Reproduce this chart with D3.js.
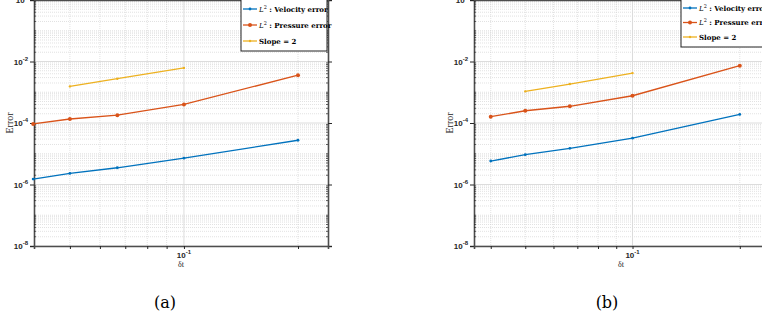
<!DOCTYPE html>
<html>
<head>
<meta charset="utf-8">
<script src="https://cdn.jsdelivr.net/npm/d3@7"></script>
<style>
  body { margin: 0; background: #fff; }
  svg { display: block; }
  .tick-lbl { font-family: "Liberation Sans", Arial, sans-serif; font-weight: bold; font-size: 8px; fill: #262626; }
  .leg { font-family: "DejaVu Serif", "Liberation Serif", serif; font-weight: bold; font-size: 7px; fill: #000; }
  .axlbl { font-family: "Liberation Serif", serif; font-size: 8px; fill: #262626; }
  .ylbl { font-family: "Liberation Serif", serif; font-size: 10px; fill: #262626; }
  .cap { font-family: "DejaVu Serif", "Liberation Serif", serif; font-size: 16px; fill: #000; }
</style>
</head>
<body>
<div id="chart"></div>
<script>
// time steps
var dt = [0.04, 0.05, 0.0667, 0.1, 0.2];
var slopeDt = [0.05, 0.0667, 0.1];

// panel (a)
var velA = [1.5e-6, 2.3e-6, 3.5e-6, 7.2e-6, 2.75e-5];
var presA = [9.3e-5, 1.35e-4, 1.8e-4, 4.0e-4, 3.6e-3];
var slopeA = [1.55e-3, 2.76e-3, 6.2e-3];

// panel (b)
var velB = [5.8e-6, 9.3e-6, 1.5e-5, 3.2e-5, 1.9e-4];
var presB = [1.6e-4, 2.5e-4, 3.5e-4, 7.7e-4, 7.3e-3];
var slopeB = [1.07e-3, 1.85e-3, 4.2e-3];

var yTicks = [1e-8, 1e-6, 1e-4, 1e-2, 1e0];
var xTicks = [0.1];
var legendLabels = ["Velocity error", "Pressure error", "Slope = 2"];
var colors = ["#0072BD", "#D95319", "#EDB120"];

var width = 762, height = 325;

var svg = d3.select("#chart").append("svg")
  .attr("width", width)
  .attr("height", height);

var drawPanel = function(opt){
  var x = d3.scaleLog().domain(opt.xdom).range([opt.left, opt.right]);
  var y = d3.scaleLog().domain([1e-8, 1e0]).range([246, 0]);
  var g = svg.append("g");

  // minor grid
  var minorY = [];
  for (var e = -8; e < 0; e++) {
    for (var m = 1; m < 10; m++) {
      var v = m * Math.pow(10, e);
      if (m == 1 && e % 2 == 0) continue;
      minorY.push(v);
    }
  }
  g.selectAll(".my").data(minorY).enter().append("line")
    .attr("x1", opt.left).attr("x2", opt.right)
    .attr("y1", function(d){ return y(d); }).attr("y2", function(d){ return y(d); })
    .attr("stroke", "#cfcfcf").attr("stroke-width", 0.6).attr("stroke-dasharray", "1,1");

  var minorX = [0.03, 0.04, 0.05, 0.06, 0.07, 0.08, 0.09, 0.2].filter(function(d){
    return d > opt.xdom[0] && d < opt.xdom[1];
  });
  g.selectAll(".mx").data(minorX).enter().append("line")
    .attr("x1", function(d){ return x(d); }).attr("x2", function(d){ return x(d); })
    .attr("y1", 0).attr("y2", 246)
    .attr("stroke", "#cfcfcf").attr("stroke-width", 0.6).attr("stroke-dasharray", "1,1");

  // major grid
  g.selectAll(".gy").data(yTicks).enter().append("line")
    .attr("x1", opt.left).attr("x2", opt.right)
    .attr("y1", function(d){ return y(d); }).attr("y2", function(d){ return y(d); })
    .attr("stroke", "#dcdcdc").attr("stroke-width", 1);
  g.selectAll(".gx").data(xTicks).enter().append("line")
    .attr("x1", function(d){ return x(d); }).attr("x2", function(d){ return x(d); })
    .attr("y1", 0).attr("y2", 246)
    .attr("stroke", "#dcdcdc").attr("stroke-width", 1);

  // axes (box)
  var axL = d3.axisLeft(y).tickValues(yTicks).tickSize(4).tickFormat("");
  var axR = d3.axisRight(y).tickValues(yTicks).tickSize(4).tickFormat("");
  var axB = d3.axisBottom(x).tickValues(xTicks.concat(minorX)).tickSize(3).tickFormat("");
  var axT = d3.axisTop(x).tickValues(xTicks.concat(minorX)).tickSize(3).tickFormat("");
  g.append("g").attr("transform", "translate(" + opt.left + ",0)").call(axL);
  g.append("g").attr("transform", "translate(" + opt.right + ",0)").call(axR);
  g.append("g").attr("transform", "translate(0,246)").call(axB);
  g.append("g").attr("transform", "translate(0,0)").call(axT);
  g.selectAll(".domain").attr("stroke", "#4d4d4d").attr("stroke-width", 1.6);
  g.selectAll(".tick line").attr("stroke", "#262626").attr("stroke-width", 1);
  // minor y ticks on the sides
  [opt.left, opt.right].forEach(function(px, i){
    g.selectAll(".mt" + i).data(minorY).enter().append("line")
      .attr("x1", px).attr("x2", i == 0 ? px + 2 : px - 2)
      .attr("y1", function(d){ return y(d); }).attr("y2", function(d){ return y(d); })
      .attr("stroke", "#262626").attr("stroke-width", 0.7);
  });

  // y tick labels
  var yl = g.selectAll(".yl").data(yTicks).enter().append("text")
    .attr("class", "tick-lbl")
    .attr("x", opt.left - 6).attr("y", function(d){ return y(d) + 3; })
    .attr("text-anchor", "end");
  yl.append("tspan").text("10");
  yl.append("tspan").attr("dy", -4).style("font-size", "6px").text(function(d){ return Math.round(Math.log10(d)); });

  var xl = g.selectAll(".xl").data(xTicks).enter().append("text")
    .attr("class", "tick-lbl")
    .attr("x", function(d){ return x(d); }).attr("y", 258)
    .attr("text-anchor", "middle");
  xl.append("tspan").text("10");
  xl.append("tspan").attr("dy", -4).style("font-size", "6px").text("-1");

  g.append("text").attr("class", "axlbl")
    .attr("x", (opt.left + opt.right) / 2).attr("y", 267)
    .attr("text-anchor", "middle").text("δt");
  g.append("text").attr("class", "ylbl")
    .attr("transform", "translate(" + (opt.left - 21) + ",123) rotate(-90)")
    .attr("text-anchor", "middle").text("Error");

  // series
  var series = [
    {xs: dt, ys: opt.vel, r: 1.4},
    {xs: dt, ys: opt.pres, r: 2},
    {xs: slopeDt, ys: opt.slope, r: 1.2}
  ];
  var line = d3.line().x(function(d){ return x(d[0]); }).y(function(d){ return y(d[1]); });
  series.forEach(function(s, i){
    var pts = d3.zip(s.xs, s.ys);
    g.append("path").datum(pts).attr("d", line)
      .attr("fill", "none").attr("stroke", colors[i]).attr("stroke-width", 1.3);
    g.selectAll(".p" + i).data(pts).enter().append("circle")
      .attr("cx", function(d){ return x(d[0]); }).attr("cy", function(d){ return y(d[1]); })
      .attr("r", s.r).attr("fill", colors[i]);
  });

  // legend
  var lg = g.append("g");
  lg.append("rect")
    .attr("x", opt.legX).attr("y", -2)
    .attr("width", opt.legW).attr("height", opt.legH + 2)
    .attr("fill", "#fff").attr("stroke", "#222").attr("stroke-width", 1);
  legendLabels.forEach(function(lab, i){
    var ly = opt.legY0 + i * opt.legStep;
    lg.append("line").attr("x1", opt.legX + 2).attr("x2", opt.legX + 16)
      .attr("y1", ly).attr("y2", ly).attr("stroke", colors[i]).attr("stroke-width", 1.3);
    lg.append("circle").attr("cx", opt.legX + 9).attr("cy", ly).attr("r", series[i].r).attr("fill", colors[i]);
    var t = lg.append("text").attr("class", "leg").attr("x", opt.legX + 18).attr("y", ly + 2.5);
    if (i < 2) {
      t.append("tspan").style("font-style", "italic").style("font-weight", "normal").text("L");
      t.append("tspan").attr("dy", -3).style("font-size", "5px").style("font-weight", "normal").text("2");
      t.append("tspan").attr("dy", 3).text(" : " + lab);
    } else {
      t.text(lab);
    }
  });
};

drawPanel({left: 34, right: 328, xdom: [0.0402, 0.24], vel: velA, pres: presA, slope: slopeA,
  legX: 241, legW: 86, legH: 51, legY0: 9, legStep: 16});
drawPanel({left: 474, right: 768, xdom: [0.0359, 0.24], vel: velB, pres: presB, slope: slopeB,
  legX: 681, legW: 86, legH: 47, legY0: 8, legStep: 14.5});

svg.append("text").attr("class", "cap").attr("x", 165).attr("y", 308).attr("text-anchor", "middle").text("(a)");
svg.append("text").attr("class", "cap").attr("x", 607).attr("y", 308).attr("text-anchor", "middle").text("(b)");
</script>
</body>
</html>
